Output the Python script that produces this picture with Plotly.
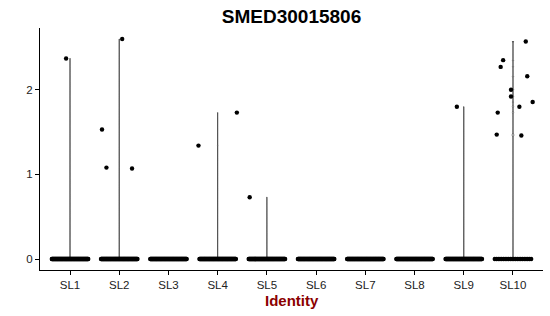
import numpy as np
import plotly.graph_objects as go

# ---- data ----
categories = ["SL1", "SL2", "SL3", "SL4", "SL5", "SL6", "SL7", "SL8", "SL9", "SL10"]
# number of cells with zero expression per identity (estimated from the dense bands)
zero_counts = [90, 90, 90, 90, 90, 90, 90, 90, 90, 22]
# non-zero expression values per identity
nonzero_values = {
    "SL1": [2.37],
    "SL2": [2.60, 1.53, 1.08, 1.07],
    "SL3": [],
    "SL4": [1.34, 1.73],
    "SL5": [0.73],
    "SL6": [],
    "SL7": [],
    "SL8": [],
    "SL9": [1.80],
    "SL10": [2.57, 2.35, 2.27, 2.16, 2.00, 1.92, 1.855, 1.80, 1.73, 1.47, 1.46],
}
# horizontal jitter of the non-zero points (as drawn)
nonzero_jitter = {
    "SL1": [-0.08],
    "SL2": [0.06, -0.35, -0.26, 0.26],
    "SL3": [],
    "SL4": [-0.39, 0.39],
    "SL5": [-0.35],
    "SL6": [],
    "SL7": [],
    "SL8": [],
    "SL9": [-0.14],
    "SL10": [0.26, -0.20, -0.25, 0.29, -0.04, -0.04, 0.40, 0.13, -0.31, -0.33, 0.17],
}
ZERO_JITTER_HALF = 0.37

fig = go.Figure()

px_all, py_all = [], []
for i, cat in enumerate(categories):
    pos = i + 1
    vals = [0.0] * zero_counts[i] + nonzero_values[cat]
    if nonzero_values[cat]:
        # all-zero groups give a degenerate (invisible) violin
        fig.add_trace(go.Violin(
            y=vals, x0=pos, name=cat, width=0.8,
            spanmode="hard", bandwidth=0.004, scalemode="width",
            points=False, line=dict(color="black", width=0.6),
            fillcolor="rgba(0,0,0,0)", showlegend=False, hoverinfo="skip",
        ))
    zx = pos + np.linspace(-ZERO_JITTER_HALF, ZERO_JITTER_HALF, zero_counts[i])
    px_all += list(zx)
    py_all += [0.0] * zero_counts[i]
    px_all += [pos + j for j in nonzero_jitter[cat]]
    py_all += nonzero_values[cat]

fig.add_trace(go.Scatter(
    x=px_all, y=py_all, mode="markers",
    marker=dict(color="black", size=4.4, line=dict(width=0)),
    showlegend=False, hoverinfo="skip",
))

font_family = "Liberation Sans, Arial, sans-serif"
fig.update_layout(
    width=550, height=316,
    margin=dict(l=40, r=7, t=28, b=46),
    paper_bgcolor="white", plot_bgcolor="white",
    violinmode="overlay",
    showlegend=False,
    font=dict(family=font_family, size=12, color="#222"),
    title=dict(text="<b>SMED30015806</b>", x=0.5, xref="paper", xanchor="center",
               y=1 - 16 / 316, yref="container", yanchor="middle",
               font=dict(family=font_family, size=19, color="black")),
    xaxis=dict(type="linear", range=[0.39, 10.61],
               tickvals=list(range(1, len(categories) + 1)), ticktext=categories,
               showline=True, linecolor="black", linewidth=1,
               ticks="outside", ticklen=4, tickcolor="black", tickwidth=1,
               showgrid=False, zeroline=False,
               tickfont=dict(size=11.5, color="#222")),
    yaxis=dict(range=[-0.13, 2.73], tickvals=[0, 1, 2],
               showline=True, linecolor="black", linewidth=1,
               ticks="outside", ticklen=4, tickcolor="black", tickwidth=1,
               showgrid=False, zeroline=False,
               tickfont=dict(size=11.5, color="#222")),
    annotations=[dict(text="<b>Identity</b>", x=0.5, xref="paper", xanchor="center",
                      y=-(300 - 270) / 242, yref="paper", yanchor="middle",
                      showarrow=False,
                      font=dict(family=font_family, size=15, color="#8B0000"))],
)

fig.write_html("out.html")
